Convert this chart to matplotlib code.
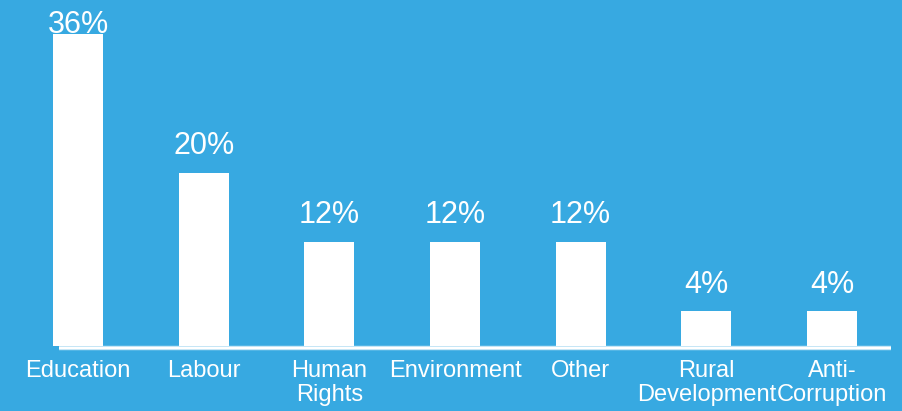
import matplotlib
matplotlib.use("Agg")
import matplotlib.pyplot as plt

categories = ["Education", "Labour", "Human\nRights", "Environment", "Other", "Rural\nDevelopment", "Anti-\nCorruption"]
values = [36, 20, 12, 12, 12, 4, 4]
value_labels = ["36%", "20%", "12%", "12%", "12%", "4%", "4%"]

BG = "#37A9E1"
W, H = 902, 411
fig = plt.figure(figsize=(W / 100, H / 100), dpi=100, facecolor=BG)
ax = fig.add_axes([0, 0, 1, 1])
ax.set_facecolor(BG)

# pixel mapping
x0, dx = 78.0, 125.67
y0, dy = 346.0, 8.675
ax.set_xlim((0 - x0) / dx, (W - x0) / dx)
ax.set_ylim((y0 - H) / dy, y0 / dy)

xs = list(range(len(categories)))
ax.bar(xs, values, width=50 / dx, color="white", zorder=3)

# baseline
ax.hlines(-1.6 / dy, (59 - x0) / dx, (891 - x0) / dx, colors="#BFE4F6", lw=3.2, zorder=2)
ax.hlines(-1.6 / dy, (59 - x0) / dx, (891 - x0) / dx, colors="white", lw=1.6, zorder=2)

font = "Liberation Sans"
cap = (y0 - 33) / dy
for x, v, lab in zip(xs, values, value_labels):
    y = min(v + 18.5 / dy, cap)
    ax.text(x, y, lab, ha="center", va="baseline", color="white",
            fontsize=22, family=font, zorder=4)

for x, c in zip(xs, categories):
    ax.text(x, (y0 - 360) / dy, c, ha="center", va="top", color="white",
            fontsize=17, family=font, linespacing=1.12, zorder=4)

ax.axis("off")
fig.savefig("out.png", dpi=100, facecolor=BG)
